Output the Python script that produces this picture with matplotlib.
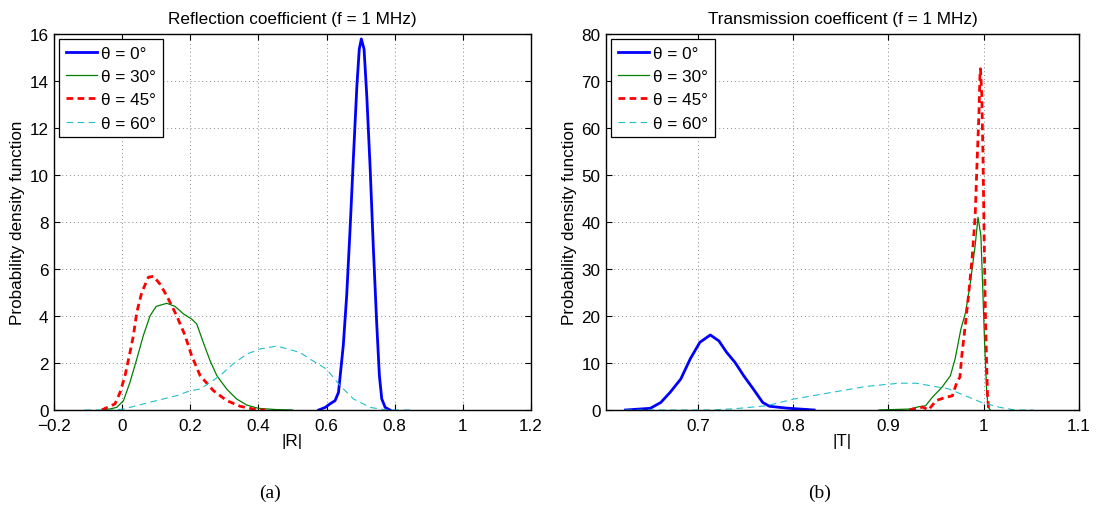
import matplotlib
matplotlib.use('Agg')
import matplotlib.pyplot as plt
from matplotlib.ticker import FuncFormatter

plt.rcParams['font.family'] = ['Liberation Sans', 'DejaVu Sans']

labels = ['θ = 0°', 'θ = 30°', 'θ = 45°', 'θ = 60°']

# |R| pdfs
refl_x_0 = [0.577, 0.596, 0.61, 0.625, 0.635, 0.64, 0.649, 0.659, 0.669, 0.679, 0.689,
            0.696, 0.702, 0.71, 0.718, 0.728, 0.737, 0.747, 0.755, 0.762, 0.772, 0.786]
refl_y_0 = [0, 0.11, 0.26, 0.40, 0.75, 1.46, 2.74, 4.86, 7.70, 10.82, 13.8,
            15.36, 15.79, 15.36, 13.37, 10.26, 6.99, 3.73, 1.46, 0.47, 0.11, 0]
refl_x_30 = [-0.05, -0.016, 0.004, 0.023, 0.043, 0.062, 0.082, 0.10, 0.131, 0.155, 0.18,
             0.204, 0.219, 0.238, 0.258, 0.278, 0.307, 0.336, 0.366, 0.40, 0.45, 0.5]
refl_y_30 = [0, 0.11, 0.40, 1.18, 2.17, 3.16, 4.01, 4.41, 4.54, 4.41, 4.09,
             3.87, 3.66, 2.88, 2.10, 1.46, 0.89, 0.47, 0.21, 0.07, 0.02, 0]
refl_x_45 = [-0.06, -0.021, -0.006, 0.0085, 0.023, 0.033, 0.043, 0.0575, 0.077, 0.092, 0.111,
             0.131, 0.16, 0.185, 0.204, 0.229, 0.268, 0.307, 0.346, 0.395, 0.42]
refl_y_45 = [0, 0.26, 0.75, 1.46, 2.45, 3.16, 4.16, 5.0, 5.65, 5.69, 5.36,
             4.86, 4.01, 3.16, 2.31, 1.46, 0.82, 0.40, 0.16, 0.01, 0]
refl_x_60 = [-0.11, -0.03, 0.004, 0.082, 0.16, 0.2, 0.229, 0.287, 0.326, 0.366, 0.405,
             0.454, 0.522, 0.551, 0.60, 0.64, 0.679, 0.728, 0.777, 0.85]
refl_y_60 = [0, 0, 0.04, 0.33, 0.61, 0.82, 0.89, 1.46, 1.96, 2.38, 2.60,
             2.72, 2.45, 2.17, 1.74, 1.03, 0.47, 0.11, 0, 0]

# |T| pdfs
trans_x_0 = [0.624, 0.650, 0.661, 0.671, 0.682, 0.692, 0.702, 0.713, 0.722, 0.730, 0.739,
             0.748, 0.758, 0.768, 0.775, 0.793, 0.822]
trans_y_0 = [0, 0.36, 1.6, 3.8, 6.6, 10.9, 14.4, 15.96, 14.7, 12.3, 10.1,
             7.3, 4.5, 1.6, 0.8, 0.4, 0]
trans_x_30 = [0.89, 0.922, 0.932, 0.939, 0.946, 0.956, 0.965, 0.970, 0.976, 0.981, 0.986,
              0.991, 0.994, 0.997, 0.999, 1.001, 1.003, 1.0045, 1.007]
trans_y_30 = [0, 0.2, 0.7, 0.9, 2.7, 4.8, 7.3, 10.9, 17.2, 20.8, 27.2,
              35.0, 41.0, 37.1, 25.7, 13.7, 4.5, 0.6, 0]
trans_x_45 = [0.922, 0.930, 0.936, 0.942, 0.95, 0.96, 0.967, 0.972, 0.975, 0.977, 0.981,
              0.984, 0.988, 0.991, 0.993, 0.995, 0.996, 0.9966, 0.998, 0.9993, 1.0003,
              1.0017, 1.003, 1.004, 1.0053]
trans_y_45 = [0, 0.4, 0.6, 0, 2.0, 2.7, 3.0, 6.0, 7.0, 11.6, 18.7,
              24.3, 32.8, 41.3, 52.7, 63.3, 71.1, 72.6, 66.9, 52.7, 38.5,
              20.8, 10.1, 3.0, 0]
trans_x_60 = [0.624, 0.716, 0.74, 0.772, 0.80, 0.842, 0.876, 0.911, 0.929, 0.963, 0.981,
              0.998, 1.016, 1.033, 1.052]
trans_y_60 = [0, 0, 0.3, 0.9, 2.3, 3.8, 5.0, 5.7, 5.7, 4.5, 3.0,
              1.6, 0.6, 0, 0]

refl_ticks = [-0.2, 0, 0.2, 0.4, 0.6, 0.8, 1, 1.2]
trans_ticks = [0.7, 0.8, 0.9, 1, 1.1]

styles = [
    dict(color='#0000ff', lw=2.0, ls='-'),
    dict(color='#008000', lw=0.9, ls='-'),
    dict(color='#ff0000', lw=2.0, ls=(0, (2.4, 1.6))),
    dict(color='#1fc0c8', lw=0.8, ls=(0, (6, 4))),
]

FS = 12.3
fmt = FuncFormatter(lambda v, p: ('%g' % round(v, 6)).replace('-', '\u2212'))

fig = plt.figure(figsize=(10.97, 5.10), dpi=100)
ax1 = fig.add_axes([54 / 1097, 1 - 411 / 510, 477 / 1097, 376 / 510])
ax2 = fig.add_axes([606 / 1097, 1 - 411 / 510, 473 / 1097, 376 / 510])


def draw(ax, curves, xlim, xticks, ylim, yticks, title, xlabel):
    for (x, y), lab, st in zip(curves, labels, styles):
        ax.plot(x, y, label=lab, **st)
    ax.set_xlim(*xlim)
    ax.set_ylim(*ylim)
    ax.set_xticks(xticks)
    ax.set_yticks(yticks)
    ax.xaxis.set_major_formatter(fmt)
    ax.yaxis.set_major_formatter(fmt)
    ax.grid(True, ls=(0, (1, 3)), lw=0.7, color='#8a8a8a')
    ax.tick_params(direction='in', top=True, right=True, length=4, width=0.8,
                   labelsize=FS)
    ax.tick_params(axis='x', pad=6)
    ax.tick_params(axis='y', pad=4)
    for s in ax.spines.values():
        s.set_linewidth(1.0)
    ax.set_title(title, fontsize=FS, pad=8)
    ax.set_xlabel(xlabel, fontsize=FS, labelpad=0)
    ax.set_ylabel('Probability density function', fontsize=FS, labelpad=3)
    leg = ax.legend(loc='upper left', fontsize=FS, fancybox=False, framealpha=1,
                    edgecolor='black', borderaxespad=0.3, handlelength=1.8,
                    handletextpad=0.25, labelspacing=0.48, borderpad=0.4)
    leg.get_frame().set_linewidth(0.9)


draw(ax1, [(refl_x_0, refl_y_0), (refl_x_30, refl_y_30),
           (refl_x_45, refl_y_45), (refl_x_60, refl_y_60)],
     (-0.2, 1.2), refl_ticks, (0, 16), range(0, 17, 2),
     'Reflection coefficient (f = 1 MHz)', '|R|')
draw(ax2, [(trans_x_0, trans_y_0), (trans_x_30, trans_y_30),
           (trans_x_45, trans_y_45), (trans_x_60, trans_y_60)],
     (0.6035, 1.1), trans_ticks, (0, 80), range(0, 81, 10),
     'Transmission coefficent (f = 1 MHz)', '|T|')

# sub-figure captions
fig.text(270 / 1097, 1 - 493 / 510, '(a)', family='Liberation Serif', fontsize=14,
         ha='center', va='center')
fig.text(820 / 1097, 1 - 493 / 510, '(b)', family='Liberation Serif', fontsize=14,
         ha='center', va='center')

plt.savefig('out.png', dpi=100)
plt.close()
